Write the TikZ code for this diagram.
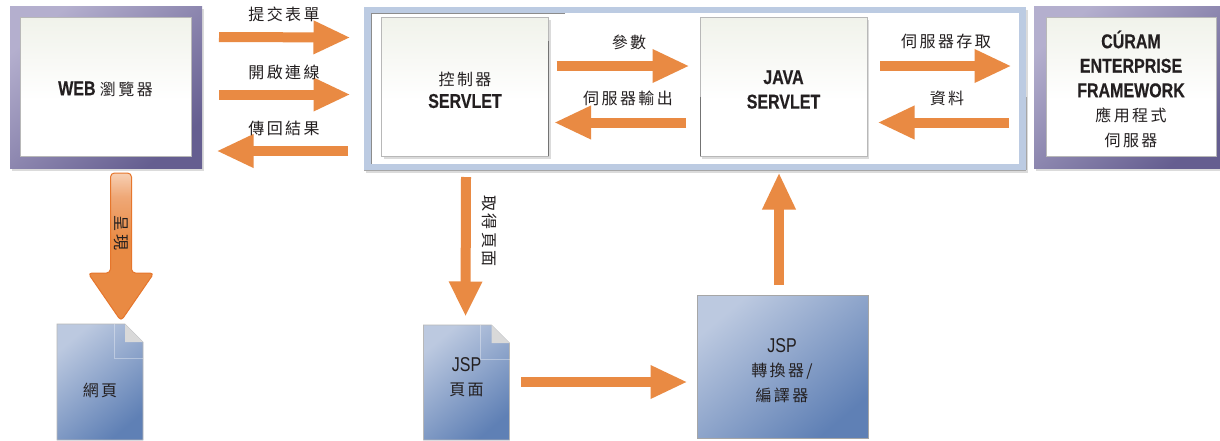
\documentclass[tikz,border=0pt]{standalone}
\usepackage{fontspec}
\setmainfont[FakeStretch=0.8,BoldFeatures={FakeStretch=0.8,FakeBold=0.35}]{Liberation Sans}
\newfontfamily\cjkfont[LetterSpace=15]{Noto Sans CJK TC}
\newcommand{\zh}[1]{{\cjkfont\fontsize{16}{25}\selectfont #1}}
\usetikzlibrary{arrows.meta,calc,shadows}
\definecolor{frameA}{HTML}{B4AFCE}
\definecolor{frameB}{HTML}{655E90}
\definecolor{docA}{HTML}{BCC9E0}
\definecolor{docB}{HTML}{5F80B5}
\definecolor{orangeF}{HTML}{E98A43}
\definecolor{orangeL}{HTML}{E6762C}
\definecolor{serverblue}{HTML}{BCCBE2}
\definecolor{ink}{HTML}{231F20}
\definecolor{panelTop}{HTML}{F0F2EA}
\definecolor{orangeS}{HTML}{EFA877}
\definecolor{orangeT}{HTML}{F7D0B4}
\pgfdeclareverticalshading{panelshade}{100bp}{
  color(0bp)=(white); color(45bp)=(white); color(75bp)=(panelTop); color(100bp)=(panelTop)}
\pgfdeclareverticalshading{renderarrow}{100bp}{
  color(0bp)=(orangeF); color(52bp)=(orangeF); color(67bp)=(orangeS); color(75bp)=(orangeT); color(100bp)=(orangeT)}
\tikzset{
  x=1pt,y=-1pt,
  every node/.style={text=ink,inner sep=0pt,outer sep=0pt,align=center,font=\fontsize{20}{24.5}\selectfont},
  softshadow/.style={drop shadow={shadow xshift=2pt,shadow yshift=-3pt,opacity=.14,fill=black}},
  purpleframe/.style={rectangle,left color=frameA,right color=frameB,shading angle=40,softshadow},
  panel/.style={rectangle,shading=panelshade,draw=black!28,line width=.7pt},
  innerpanel/.style={panel,softshadow},
  bluebox/.style={rectangle,left color=docA,right color=docB,shading angle=40,draw=black!35,line width=.6pt},
  blockarrow/.style={line width=10pt,draw=orangeF,line cap=butt,shorten >=-1.5pt,
    -{Triangle[length=37pt,width=31pt,fill=orangeF]}},
}
\begin{document}
\begin{tikzpicture}
\useasboundingbox (0,0) rectangle (1220,440);
\fill[white] (0,0) rectangle (1220,440);

% browser
\node[purpleframe,minimum width=192pt,minimum height=162pt] (browserframe) at (106,87) {};
\node[panel,minimum width=171pt,minimum height=139pt] (browser) at (105.5,86.5) {};
\node (browsertext) at ([yshift=-2.5pt]browser.center) {\textbf{WEB} \zh{瀏覽器}};

% server container
\node[rectangle,fill=serverblue,minimum width=662pt,minimum height=163pt,softshadow] (container) at (695,88.5) {};
\fill[white] (371,13) rectangle (1019,164);
\draw[black!45,line width=.7pt] (565,13) -- (371,13) -- (371,164);
\draw[black!35,line width=.7pt] (364,170) -- (1026,170) (1026,97) -- (1026,170);

\node[innerpanel,minimum width=167pt,minimum height=139pt] (controller) at (465,86.5) {};
\node (controllertext) at ([yshift=-3.5pt]controller.center) {\zh{控制器}\\[-2pt]\textbf{SERVLET}};
\node[innerpanel,minimum width=167pt,minimum height=139pt] (java) at (783.5,86.5) {};
\node (javatext) at ([yshift=-3pt]java.center) {\textbf{JAVA}\\\textbf{SERVLET}};
\draw[black!55,line width=.7pt] (controller.north east) ++(0,24) -- (controller.south east);
\draw[black!55,line width=.7pt] (java.west) ++(0,10) -- (java.south west);

% curam
\node[purpleframe,minimum width=190pt,minimum height=162pt] (curamframe) at (1129,87) {};
\node[panel,minimum width=170pt,minimum height=139pt] (curam) at (1131,86.5) {};
\node (curamtext) at ([yshift=-2.5pt]curam.center)
  {\textbf{CÚRAM}\\\textbf{ENTERPRISE}\\\textbf{FRAMEWORK}\\\zh{應用程式}\\\zh{伺服器}};

% documents
\newcommand{\docshape}[2]{%
  \shade[left color=docA,right color=docB,shading angle=40,draw=black!28,line width=.6pt]
    (#1,#2) -- ++(68,0) -- ++(18,18) -- (#1+86,440) -- (#1,440) -- cycle;
  \draw[white,opacity=.35,line width=.7pt] (#1+57,#2) -- ++(0,34) -- ++(29,0);
  \fill[black!15] (#1+68,#2) -- (#1+86,#2+18) -- (#1+68,#2+18) -- cycle;
}
\docshape{57}{324}
\docshape{423.5}{325}
\node[rectangle,minimum width=86pt,minimum height=60pt] (page) at (100,390) {\zh{網頁}};
\node[rectangle,minimum width=86pt,minimum height=80pt] (jsppage) at (466.5,377) {JSP\\[-1pt]\zh{頁面}};
\node[bluebox,minimum width=171pt,minimum height=143pt] (compiler) at (782.5,366.5) {};
\node (compilertext) at ([shift={(-0.5,4)}]compiler.center) {JSP\\\zh{轉換器/}\\\zh{編譯器}};

% top-row arrows
\draw[blockarrow] ([shift={(17,-50)}]browserframe.east) -- ([shift={(-15,-51)}]container.west);
\draw[blockarrow] ([shift={(17,7.5)}]browserframe.east) -- ([shift={(-15,6)}]container.west);
\draw[blockarrow] ([shift={(-16,62.5)}]container.west) -- ([shift={(16,64)}]browserframe.east);
\draw[blockarrow] ([shift={(8,-20.5)}]controller.east) -- ([shift={(-12,-20.5)}]java.west);
\draw[blockarrow] ([shift={(-14,36)}]java.west) -- ([shift={(7,36)}]controller.east);
\draw[blockarrow] ([shift={(13,-20.5)}]java.east) -- ([shift={(-16,-22.5)}]container.east);
\draw[blockarrow] ([shift={(-17,34)}]container.east) -- ([shift={(12,36)}]java.east);

\node (l1) at (284,14) {\zh{提交表單}};
\node (l2) at (284,72) {\zh{開啟連線}};
\node (l3) at (284,128.5) {\zh{傳回結果}};
\node (l4) at (629,42) {\zh{參數}};
\node (l5) at (628,98.5) {\zh{伺服器輸出}};
\node (l6) at (946,41) {\zh{伺服器存取}};
\node (l7) at (947,98.5) {\zh{資料}};

% vertical arrows
\draw[blockarrow,-{Triangle[length=35pt,width=31pt,fill=orangeF]}] ([shift={(1,21)}]controller.south) -- ([shift={(-1,-22)}]jsppage.north);
\node[rotate=-90] (l8) at (490,231) {\zh{取得頁面}};
\draw[blockarrow] ([shift={(11.5,5)}]jsppage.east) -- ([shift={(-11,15.5)}]compiler.west);
\draw[blockarrow] ([shift={(-3.5,-10)}]compiler.north) -- ([shift={(-4.5,18)}]java.south);

% render arrow
\coordinate (rs) at ([shift={(15,5)}]browserframe.south);
\coordinate (re) at ([shift={(21,-39)}]page.north);
\path[shading=renderarrow,draw=orangeL,line width=1pt,rounded corners=4pt]
  ([xshift=-10.5pt]rs) -- ([xshift=10.5pt]rs) -- (131.5,273) -- (154,273) -- (re) -- (88,273) -- (110.5,273) -- cycle;
\node[rotate=-90] (l9) at (121,233) {\zh{呈現}};
\end{tikzpicture}
\end{document}
